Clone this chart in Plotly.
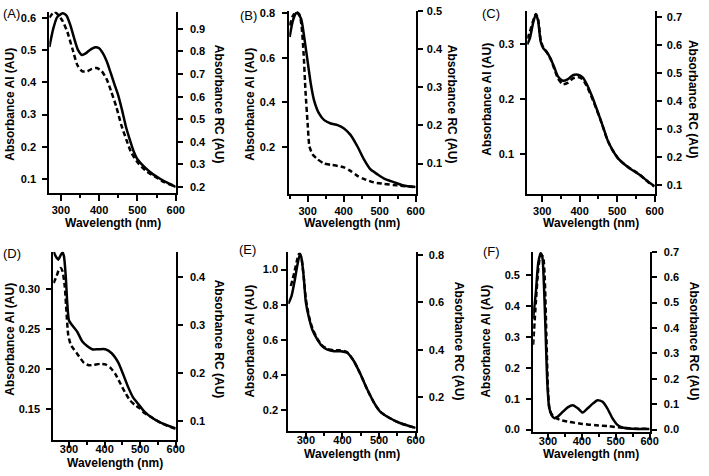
import plotly.graph_objects as go

W, H = 709, 476
FONT = "Arial, Liberation Sans, Helvetica, sans-serif"

# ---------------- data (wavelength nm / absorbance AU) ----------------
A_ai_x = [270, 280, 290, 300, 305, 315, 325, 335, 345, 355, 365, 375, 390, 400, 410, 420, 430, 440, 450, 460, 470, 480, 490, 500, 520, 540, 560, 580, 600]
A_ai_y = [0.51, 0.566, 0.602, 0.612, 0.615, 0.607, 0.577, 0.536, 0.50, 0.485, 0.49, 0.50, 0.509, 0.506, 0.49, 0.465, 0.43, 0.394, 0.359, 0.313, 0.262, 0.222, 0.186, 0.161, 0.135, 0.115, 0.10, 0.087, 0.075]
A_rc_x = [270, 283, 291, 304, 317, 330, 343, 356, 369, 381, 394, 407, 420, 432, 445, 458, 471, 484, 501, 522, 544, 570, 600]
A_rc_y = [0.95, 0.975, 0.965, 0.936, 0.886, 0.813, 0.74, 0.712, 0.712, 0.723, 0.727, 0.712, 0.676, 0.62, 0.554, 0.474, 0.41, 0.352, 0.308, 0.272, 0.248, 0.222, 0.203]

B_ai_x = [250, 259, 268, 272, 282, 291, 300, 309, 318, 332, 346, 364, 383, 401, 419, 438, 456, 474, 493, 511, 539, 566, 600]
B_ai_y = [0.693, 0.766, 0.80, 0.80, 0.774, 0.686, 0.583, 0.481, 0.408, 0.349, 0.32, 0.305, 0.298, 0.283, 0.254, 0.203, 0.145, 0.10, 0.078, 0.059, 0.042, 0.027, 0.02]
B_rc_x = [250, 259, 268, 277, 283, 289, 294, 300, 305, 314, 328, 346, 364, 383, 401, 419, 438, 456, 483, 511, 548, 600]
B_rc_y = [0.462, 0.487, 0.497, 0.491, 0.462, 0.385, 0.29, 0.205, 0.145, 0.124, 0.111, 0.10, 0.097, 0.094, 0.09, 0.081, 0.068, 0.06, 0.051, 0.047, 0.043, 0.038]

C_ai_x = [260, 267, 276, 283, 289, 296, 303, 311, 322, 333, 342, 355, 369, 382, 395, 408, 421, 434, 447, 461, 474, 487, 505, 531, 558, 584, 600]
C_ai_y = [0.30, 0.311, 0.34, 0.355, 0.343, 0.305, 0.293, 0.287, 0.275, 0.257, 0.242, 0.234, 0.237, 0.244, 0.245, 0.24, 0.225, 0.204, 0.18, 0.153, 0.127, 0.109, 0.091, 0.076, 0.064, 0.05, 0.042]
C_rc_x = [260, 267, 276, 283, 289, 296, 303, 311, 322, 333, 342, 355, 369, 382, 395, 408, 421, 434, 447, 461, 474, 487, 505, 531, 558, 584, 600]
C_rc_y = [0.624, 0.648, 0.688, 0.712, 0.694, 0.618, 0.592, 0.578, 0.552, 0.514, 0.482, 0.461, 0.467, 0.482, 0.487, 0.479, 0.449, 0.409, 0.365, 0.314, 0.263, 0.228, 0.193, 0.164, 0.141, 0.111, 0.097]

D_ai_x = [257, 263, 270, 277, 282, 286, 291, 295, 300, 309, 323, 337, 351, 365, 383, 402, 420, 439, 452, 466, 480, 494, 512, 531, 559, 600]
D_ai_y = [0.347, 0.341, 0.337, 0.343, 0.346, 0.341, 0.316, 0.284, 0.261, 0.255, 0.247, 0.235, 0.229, 0.225, 0.225, 0.225, 0.22, 0.208, 0.194, 0.178, 0.165, 0.157, 0.147, 0.14, 0.133, 0.126]
D_rc_x = [257, 265, 272, 277, 282, 288, 293, 298, 305, 314, 328, 342, 356, 370, 388, 402, 416, 430, 443, 457, 471, 485, 499, 512, 531, 559, 600]
D_rc_y = [0.388, 0.402, 0.416, 0.419, 0.412, 0.382, 0.327, 0.279, 0.259, 0.249, 0.235, 0.221, 0.216, 0.217, 0.219, 0.218, 0.211, 0.198, 0.18, 0.16, 0.143, 0.133, 0.126, 0.116, 0.108, 0.095, 0.083]

E_ai_x = [252, 261, 270, 277, 284, 288, 294, 300, 309, 318, 332, 345, 359, 377, 395, 413, 431, 449, 467, 485, 503, 530, 557, 600]
E_ai_y = [0.805, 0.851, 0.944, 1.028, 1.09, 1.065, 0.963, 0.814, 0.721, 0.656, 0.60, 0.563, 0.544, 0.535, 0.535, 0.526, 0.479, 0.405, 0.321, 0.247, 0.191, 0.153, 0.126, 0.098]
E_rc_x = [259, 268, 275, 281, 287, 293, 300, 309, 318, 332, 345, 359, 377, 395, 413, 431, 449, 467, 485, 503, 530, 557, 600]
E_rc_y = [0.669, 0.724, 0.772, 0.804, 0.793, 0.724, 0.614, 0.538, 0.49, 0.444, 0.417, 0.403, 0.397, 0.397, 0.389, 0.352, 0.297, 0.234, 0.179, 0.138, 0.11, 0.09, 0.069]

F_ai_x = [256, 264, 271, 278, 283, 288, 293, 298, 303, 310, 319, 329, 344, 358, 373, 388, 402, 417, 433, 446, 461, 475, 490, 504, 519, 548, 600]
F_ai_y = [0.359, 0.444, 0.539, 0.571, 0.56, 0.465, 0.307, 0.148, 0.074, 0.048, 0.037, 0.042, 0.058, 0.072, 0.079, 0.069, 0.055, 0.069, 0.085, 0.095, 0.09, 0.069, 0.037, 0.016, 0.007, 0.003, 0.002]
F_rc_x = [256, 264, 271, 278, 285, 290, 295, 300, 305, 315, 334, 363, 402, 441, 480, 519, 558, 600]
F_rc_y = [0.334, 0.501, 0.629, 0.687, 0.681, 0.604, 0.373, 0.154, 0.077, 0.052, 0.039, 0.03, 0.022, 0.017, 0.013, 0.007, 0.003, 0.003]

# tick labels
x_ticks = [300, 400, 500, 600]
x_minor = [250, 350, 450, 550]
A_left_ticks = ["0.1", "0.2", "0.3", "0.4", "0.5", "0.6"]
A_right_ticks = ["0.2", "0.3", "0.4", "0.5", "0.6", "0.7", "0.8", "0.9"]
B_left_ticks = ["0.2", "0.4", "0.6", "0.8"]
B_right_ticks = ["0.1", "0.2", "0.3", "0.4", "0.5"]
C_left_ticks = ["0.1", "0.2", "0.3"]
C_right_ticks = ["0.1", "0.2", "0.3", "0.4", "0.5", "0.6", "0.7"]
D_left_ticks = ["0.15", "0.20", "0.25", "0.30"]
D_right_ticks = ["0.1", "0.2", "0.3", "0.4"]
E_left_ticks = ["0.2", "0.4", "0.6", "0.8", "1.0"]
E_right_ticks = ["0.2", "0.4", "0.6", "0.8"]
F_left_ticks = ["0.0", "0.1", "0.2", "0.3", "0.4", "0.5"]
F_right_ticks = ["0.0", "0.1", "0.2", "0.3", "0.4", "0.5", "0.6", "0.7"]

panel_labels = ["(A)", "(B)", "(C)", "(D)", "(E)", "(F)"]
x_title = "Wavelength (nm)"
left_title = "Absorbance AI (AU)"
right_title = "Absorbance RC (AU)"

# ---------------- layout geometry (pixels) ----------------
panels = [
    dict(ai=(A_ai_x, A_ai_y), rc=(A_rc_x, A_rc_y), lt=A_left_ticks, rt=A_right_ticks,
         box=(50, 178, 6, 191), xr=[270, 600], yl=[0.0564, 0.619], yr=[0.174, 0.975],
         lab=(1, 8), ltx=10, rtx=222, ty=100, xty=222, so=0, lso=4, rso=5),
    dict(ai=(B_ai_x, B_ai_y), rc=(B_rc_x, B_rc_y), lt=B_left_ticks, rt=B_right_ticks,
         box=(293, 421, 5, 192), xr=[249, 600], yl=[-0.011, 0.81], yr=[0.0205, 0.5],
         lab=(241, 10), ltx=253, rtx=458, ty=100, xty=222, so=0, lso=5, rso=2),
    dict(ai=(C_ai_x, C_ai_y), rc=(C_rc_x, C_rc_y), lt=C_left_ticks, rt=C_right_ticks,
         box=(534, 663, 5, 192), xr=[260, 600], yl=[0.0282, 0.361], yr=[0.0697, 0.723],
         lab=(486, 8), ltx=493, rtx=702, ty=95, xty=222, so=0, lso=4, rso=3),
    dict(ai=(D_ai_x, D_ai_y), rc=(D_rc_x, D_rc_y), lt=D_left_ticks, rt=D_right_ticks,
         box=(54, 178, 251, 443), xr=[256, 600], yl=[0.1120, 0.3469], yr=[0.0605, 0.4532],
         lab=(1, 253), ltx=10, rtx=222, ty=340, xty=467, so=-8, lso=4, rso=5),
    dict(ai=(E_ai_x, E_ai_y), rc=(E_rc_x, E_rc_y), lt=E_left_ticks, rt=E_right_ticks,
         box=(292, 421, 251, 434), xr=[252, 600], yl=[0.081, 1.102], yr=[0.0566, 0.814],
         lab=(240, 249), ltx=253, rtx=465, ty=342, xty=458, so=-8, lso=1, rso=4),
    dict(ai=(F_ai_x, F_ai_y), rc=(F_rc_x, F_rc_y), lt=F_left_ticks, rt=F_right_ticks,
         box=(540, 658, 251, 435), xr=[256, 600], yl=[-0.0073, 0.576], yr=[-0.0090, 0.7],
         lab=(487, 251), ltx=492, rtx=703, ty=342, xty=458, so=-8, lso=4, rso=5),
]

fig = go.Figure()
layout = {}
annotations = []
tickfont = dict(family=FONT, size=11, color="black", weight="bold")
titlefont = dict(family=FONT, size=12, color="black", weight="bold")

for i, p in enumerate(panels, start=1):
    sfx = "" if i == 1 else str(i)
    xa, ya, yra = "x" + sfx, "y" + sfx, "y" + str(i + 6)
    x0, x1, y0, y1 = p["box"]
    fig.add_trace(go.Scatter(x=p["ai"][0], y=p["ai"][1], xaxis=xa, yaxis=ya, mode="lines",
                             line=dict(color="black", width=2.5, shape="spline", smoothing=0.6),
                             showlegend=False, hoverinfo="skip"))
    fig.add_trace(go.Scatter(x=p["rc"][0], y=p["rc"][1], xaxis=xa, yaxis=yra, mode="lines",
                             line=dict(color="black", width=2.5, dash="5px,3px", shape="spline", smoothing=0.6),
                             showlegend=False, hoverinfo="skip"))
    common = dict(showline=True, linewidth=2, linecolor="black", ticks="outside", tickwidth=2,
                  tickcolor="black", tickfont=tickfont, showgrid=False, zeroline=False)
    layout["xaxis" + sfx] = dict(domain=[x0 / W, x1 / W], anchor=ya, range=p["xr"],
                                 tickmode="array", tickvals=x_ticks, ticktext=[str(v) for v in x_ticks],
                                 ticklen=6, ticklabelstandoff=p["so"],
                                 minor=dict(tickmode="array", tickvals=x_minor, ticks="outside", ticklen=3,
                                            tickwidth=2, tickcolor="black"),
                                 **common)
    layout["yaxis" + sfx] = dict(domain=[1 - y1 / H, 1 - y0 / H], anchor=xa, range=p["yl"], side="left",
                                 tickmode="array", tickvals=[float(t) for t in p["lt"]], ticktext=p["lt"],
                                 ticklen=5, ticklabelstandoff=p["lso"], **common)
    layout["yaxis" + str(i + 6)] = dict(overlaying=ya, anchor=xa, range=p["yr"], side="right",
                                        tickmode="array", tickvals=[float(t) for t in p["rt"]], ticktext=p["rt"],
                                        ticklen=5, ticklabelstandoff=p["rso"], **common)
    annotations.append(dict(text=panel_labels[i - 1], x=p["lab"][0] / W, y=1 - p["lab"][1] / H, xref="paper",
                            yref="paper", xanchor="left", yanchor="middle", showarrow=False,
                            font=dict(family=FONT, size=13, color="black")))
    annotations.append(dict(text=left_title, x=p["ltx"] / W, y=1 - p["ty"] / H, xref="paper", yref="paper",
                            xanchor="center", yanchor="middle", textangle=-90, showarrow=False, font=titlefont))
    annotations.append(dict(text=right_title, x=p["rtx"] / W, y=1 - p["ty"] / H, xref="paper", yref="paper",
                            xanchor="center", yanchor="middle", textangle=90, showarrow=False, font=titlefont))
    annotations.append(dict(text=x_title, x=(x0 + x1) / 2 / W, y=1 - p["xty"] / H, xref="paper", yref="paper",
                            xanchor="center", yanchor="middle", showarrow=False, font=titlefont))

fig.update_layout(width=W, height=H, autosize=False, margin=dict(l=0, r=0, t=0, b=0),
                  paper_bgcolor="white", plot_bgcolor="white", annotations=annotations, **layout)
fig.write_html("out.html", config={"displayModeBar": False},
               post_script="document.body.style.margin='0';document.body.style.padding='0';"
                           "document.body.style.overflow='hidden';")
